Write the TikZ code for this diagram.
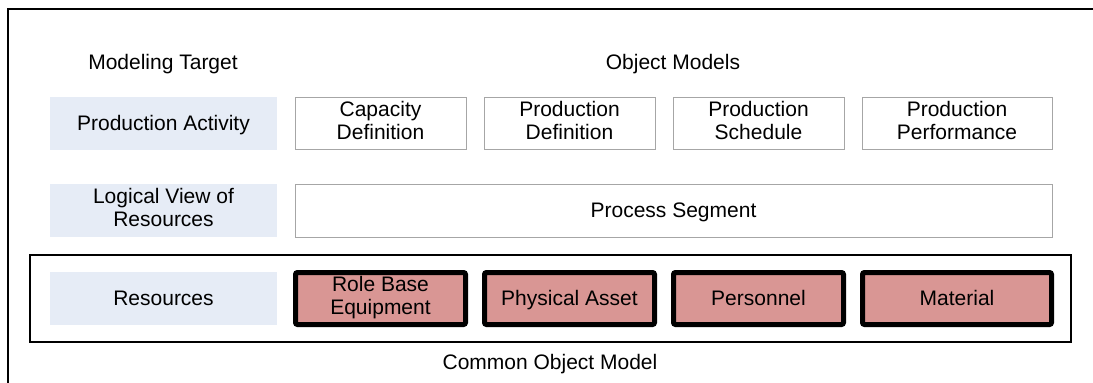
\documentclass[tikz,border=0pt]{standalone}
\usepackage{fontspec}
\setmainfont{Liberation Sans}
\definecolor{bluefill}{HTML}{E6ECF6}
\definecolor{redfill}{HTML}{D99694}
\definecolor{greyline}{HTML}{A6A6A6}
\newcommand{\mystrut}{\rule[-5.5pt]{0pt}{25pt}}
\tikzset{
  txt/.style={font=\fontsize{21}{23}\selectfont, align=center, inner sep=0pt,
    execute at begin node=\mystrut, execute at end node=\mystrut},
  target/.style={txt, fill=bluefill, minimum width=227pt, minimum height=53pt},
  objbox/.style={txt, draw=greyline, line width=1pt, fill=white, minimum height=52pt},
  resbox/.style={txt, draw=black, line width=5pt, fill=redfill, rounded corners=2pt, minimum height=52pt},
  frame/.style={draw=black, line width=1.8pt}
}
\begin{document}
\begin{tikzpicture}[x=1pt, y=-1pt]
\useasboundingbox (0,0) rectangle (1093,383);
\fill[white] (0,0) rectangle (1093,383);
% outer frame (only top and left visible)
\coordinate (ftl) at (8,9);
\coordinate (ftr) at (1093,9);
\coordinate (fbl) at (8,383);
\draw[black, line width=2.6pt] (ftr) -- (ftl) -- (fbl);
% headings
\node[txt] (mt) at (163,62) {Modeling Target};
\node[txt] (om) at (673,62) {Object Models};
% common object model frame
\node[frame, minimum width=1041pt, minimum height=87pt, inner sep=0pt] (com) at (550.5,298.5) {};
\node[txt] (comt) at (550,362) {Common Object Model};
% modeling targets
\node[target] (pa) at (163.5,123.5) {Production Activity};
\node[target] (lv) at (163.5,210.5) {Logical View of\\Resources};
\node[target] (res) at (163.5,298.5) {Resources};
% object models
\node[objbox, minimum width=171pt] (cap) at (380.5,123) {Capacity\\Definition};
\node[objbox, minimum width=171pt] (pdef) at (569.5,123) {Production\\Definition};
\node[objbox, minimum width=171pt] (psch) at (758.5,123) {Production\\Schedule};
\node[objbox, minimum width=190pt] (pperf) at (957,123) {Production\\Performance};
\node[objbox, minimum width=757pt, minimum height=53pt] (pseg) at (673.5,210.5) {Process Segment};
% resources
\node[resbox, minimum width=170pt] (rbe) at (380.5,298.5) {Role Base\\Equipment};
\node[resbox, minimum width=170pt] (pas) at (569.5,298.5) {Physical Asset};
\node[resbox, minimum width=170pt] (per) at (758.5,298.5) {Personnel};
\node[resbox, minimum width=189pt] (mat) at (957,298.5) {Material};
\end{tikzpicture}
\end{document}
